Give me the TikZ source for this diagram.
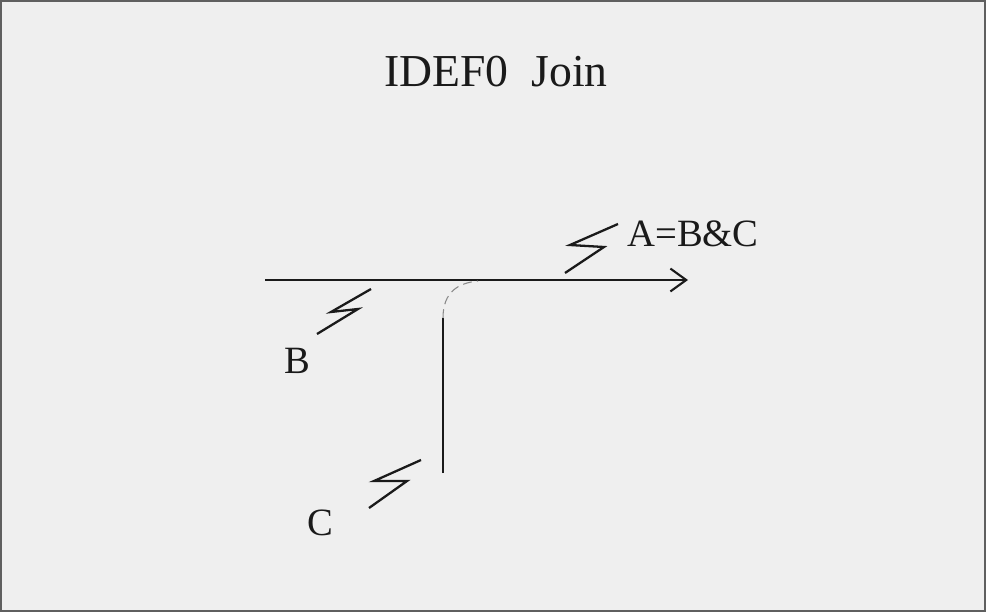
\documentclass[tikz,border=0pt]{standalone}
\usepackage{fontspec}
\setmainfont{Liberation Serif}
\usepackage[dvipsnames,svgnames,x11names]{xcolor}
\definecolor{paper}{HTML}{EFEFEF}
\definecolor{ink}{HTML}{1A1A1A}
\definecolor{faint}{HTML}{8A8A8A}
\usetikzlibrary{arrows.meta, positioning, calc}

\begin{document}
\begin{tikzpicture}[x=0.02cm, y=-0.02cm,
  label/.style={inner sep=0pt, text=ink, font=\fontsize{22}{26}\selectfont},
  flow/.style={draw=ink, line width=1.2pt},
  arr/.style={flow, -{Straight Barb[length=9pt, width=13pt, line width=1.2pt]}},
  squig/.style={draw=ink, line width=1.3pt, line join=miter}
]
% frame and background
\draw[fill=paper, draw=ink!70, line width=0.8pt] (1,1) rectangle (985,611);
\useasboundingbox (0,0) rectangle (986,612);

\node[inner sep=0pt, text=ink, font=\fontsize{26}{30}\selectfont] (title) at (496,72)
  {IDEF0\ \ Join};

% the arrows
\coordinate (bstart) at (265,280);
\coordinate (aend) at (688,280);
\coordinate (cstart) at (443,473);
\coordinate (cbend) at (443,318);
\coordinate (joinpt) at (478,281);
\draw[arr] (bstart) -- (aend);
\draw[flow] (cstart) -- (cbend);
\draw[faint, line width=0.6pt, dashed, dash pattern=on 5pt off 3pt]
  (cbend) .. controls (443,292) and (458,283) .. (joinpt);

% labels
\node[label, anchor=west] (alabel) at (627,234) {A=B\&C};
\node[label] (blabel) at (297,361) {B};
\node[label] (clabel) at (320,523) {C};

% squiggles tying labels to arrows
\coordinate (asq) at (618,224);
\coordinate (aln) at (565,273);
\draw[squig] (asq) -- (570,245) -- (604,247) -- (aln);
\coordinate (bsq) at (371,289);
\coordinate (bln) at (317,334);
\draw[squig] (bsq) -- (331,312) -- (358,309) -- (bln);
\coordinate (csq) at (421,460);
\coordinate (cln) at (369,508);
\draw[squig] (csq) -- (374,481) -- (407,481) -- (cln);
\end{tikzpicture}
\end{document}
